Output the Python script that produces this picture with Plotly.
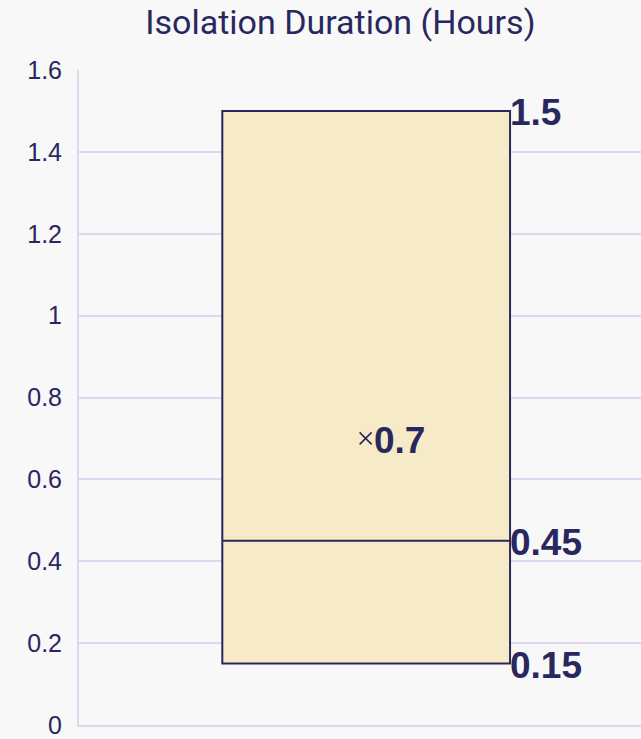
import plotly.graph_objects as go

# Data
category = ["Isolation Duration"]
q1_vals = [0.15]
median_vals = [0.45]
q3_vals = [1.5]
low_vals = [0.15]
high_vals = [1.5]
mean_vals = [0.7]
y_ticks = [0, 0.2, 0.4, 0.6, 0.8, 1.0, 1.2, 1.4, 1.6]
y_tick_labels = ["0", "0.2", "0.4", "0.6", "0.8", "1", "1.2", "1.4", "1.6"]

NAVY = "#28285f"
GRID = "#dcd9ef"
BG = "#f8f8f8"
FILL = "#f6ebc6"

xc = 0.511
bw = 0.512
xr = xc + bw / 2
xm = xc - 0.001
LABEL_FONT = dict(family="Liberation Sans", size=37, color=NAVY, weight="bold")

fig = go.Figure()
fig.add_trace(go.Box(
    x=[xc], q1=q1_vals, median=median_vals, q3=q3_vals,
    lowerfence=low_vals, upperfence=high_vals,
    width=bw, fillcolor=FILL, line=dict(color=NAVY, width=2),
    whiskerwidth=0, boxpoints=False, showlegend=False, hoverinfo="skip",
    name=category[0],
))
# mean marker
fig.add_trace(go.Scatter(
    x=[xm], y=mean_vals, mode="markers",
    marker=dict(symbol="x-thin", size=12, line=dict(color=NAVY, width=1.6)),
    showlegend=False, hoverinfo="skip", cliponaxis=False,
))

# value labels
lab_vals = [high_vals[0], median_vals[0], low_vals[0]]
for v in lab_vals:
    fig.add_annotation(x=xr, y=v, text=f"{v:g}", showarrow=False,
                       xanchor="left", yanchor="middle", xshift=-2, yshift=-2,
                       font=LABEL_FONT)
fig.add_annotation(x=xm, y=mean_vals[0], text=f"{mean_vals[0]:g}",
                   showarrow=False, xanchor="left", yanchor="middle",
                   xshift=6, yshift=-2, font=LABEL_FONT)

fig.update_layout(
    width=641, height=739,
    paper_bgcolor=BG, plot_bgcolor=BG,
    margin=dict(l=79, r=0, t=70, b=12),
    title=dict(text="Isolation Duration (Hours)", x=0.531, xanchor="center",
               y=0.970, yanchor="middle",
               font=dict(family="Roboto", size=34, color=NAVY)),
    xaxis=dict(range=[0, 1], showgrid=False, zeroline=False, showticklabels=False,
               showline=True, linecolor=GRID, linewidth=2),
    yaxis=dict(range=[0, 1.6], tickvals=y_ticks, ticktext=y_tick_labels,
               showgrid=True, gridcolor=GRID, gridwidth=2, zeroline=False,
               showline=True, linecolor=GRID, linewidth=2,
               tickfont=dict(family="Liberation Sans", size=25, color=NAVY),
               ticklabelstandoff=10, ticklabeloverflow="allow"),
)

fig.write_html(
    "out.html",
    config={"displayModeBar": False},
    post_script="document.body.style.margin='0';document.body.style.background='#f8f8f8';window.dispatchEvent(new Event('resize'));",
)
